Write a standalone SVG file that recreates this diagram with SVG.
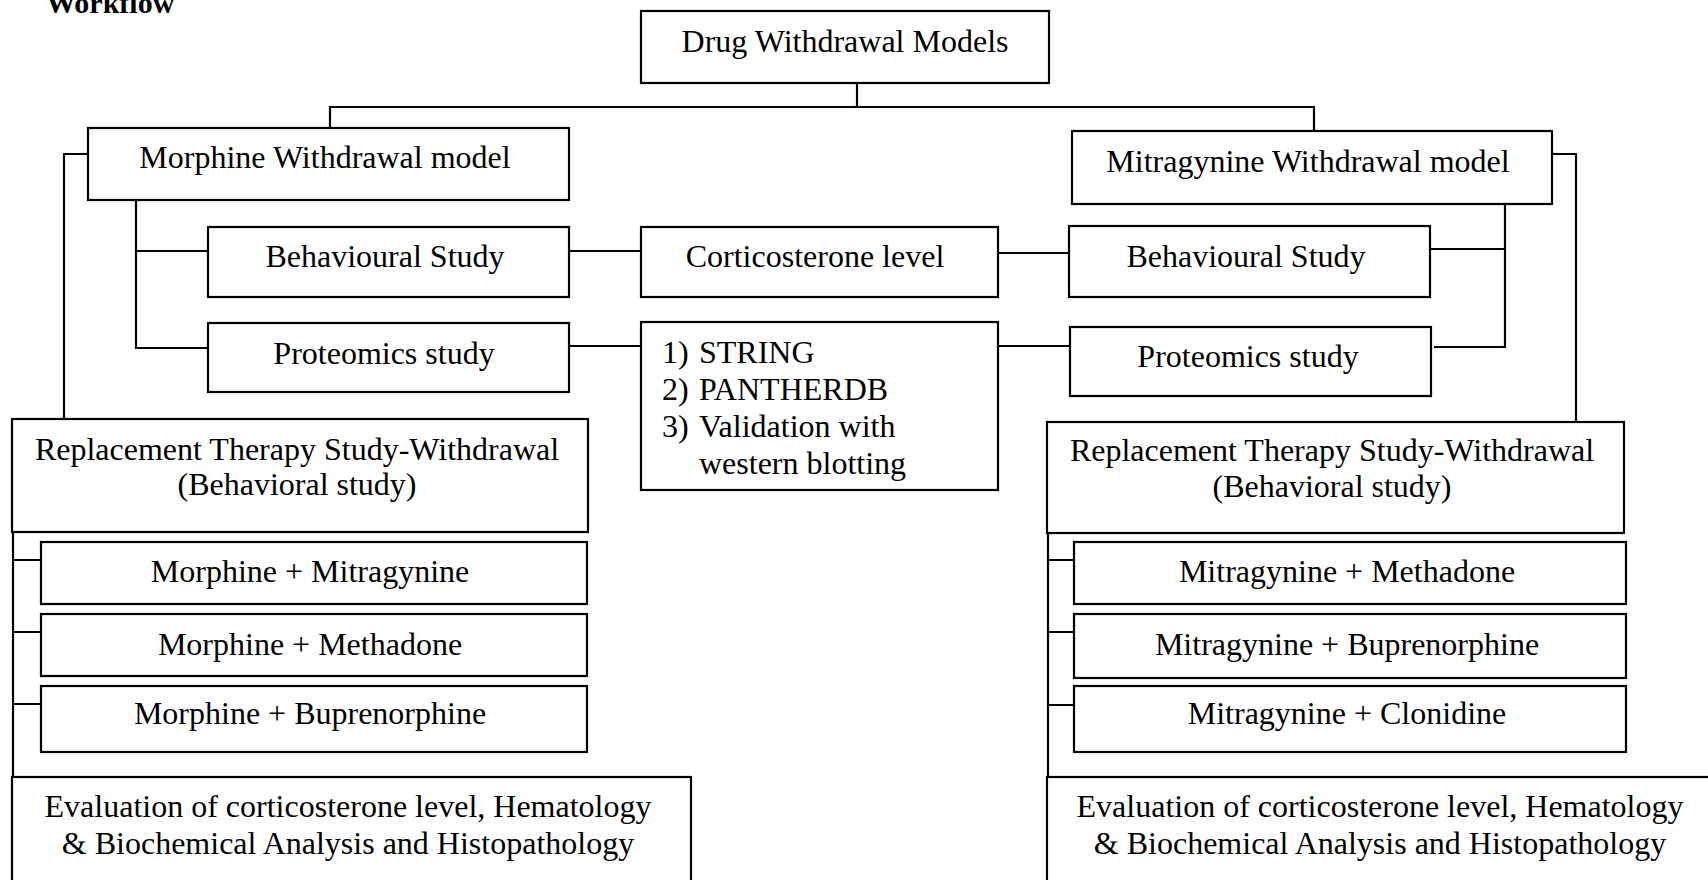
<svg xmlns="http://www.w3.org/2000/svg" width="1708" height="880" viewBox="0 0 1708 880">
<style>
.box{fill:#fff;stroke:#000;stroke-width:2.2}
.t{font-family:"Liberation Serif","Times New Roman",serif;font-size:32px;fill:#000;text-anchor:middle}
.l{font-family:"Liberation Serif","Times New Roman",serif;font-size:32px;fill:#000}
.c{fill:none;stroke:#000;stroke-width:2.2}
</style>
<rect width="1708" height="880" fill="#fff"/>
<text x="46" y="13" style="font-family:'Liberation Serif','Times New Roman',serif;font-size:30px;font-weight:bold">Workflow</text>
<g id="connectors" class="c">
<path d="M857,83 V107"/>
<path d="M330,128 V107 H1314 V131"/>
<path d="M88,154 H64 V419"/>
<path d="M1552,154 H1576 V422"/>
<path d="M136,200 V348 H208 M136,251 H208"/>
<path d="M1505,204 V347 H1434 M1505,249 H1430"/>
<path d="M569,251 H641 M998,253 H1069"/>
<path d="M569,346 H641 M998,346 H1070"/>
<path d="M13,532 V777 M13,560 H41 M13,632 H41 M13,704 H41"/>
<path d="M1048,533 V777 M1048,560 H1074 M1048,632 H1074 M1048,705 H1074"/>
</g>
<g id="drug"><rect class="box" x="641" y="11" width="408" height="72"/><text class="t" x="845" y="52">Drug Withdrawal Models</text></g>
<g id="morphine"><rect class="box" x="88" y="128" width="481" height="72"/><text class="t" x="325" y="168">Morphine Withdrawal model</text></g>
<g id="mitragynine"><rect class="box" x="1072" y="131" width="480" height="73"/><text class="t" x="1308" y="172">Mitragynine Withdrawal model</text></g>
<g id="behavL"><rect class="box" x="208" y="227" width="361" height="70"/><text class="t" x="385" y="267">Behavioural Study</text></g>
<g id="cort"><rect class="box" x="641" y="227" width="357" height="70"/><text class="t" x="815" y="267">Corticosterone level</text></g>
<g id="behavR"><rect class="box" x="1069" y="226" width="361" height="71"/><text class="t" x="1246" y="267">Behavioural Study</text></g>
<g id="protL"><rect class="box" x="208" y="323" width="361" height="69"/><text class="t" x="384" y="364">Proteomics study</text></g>
<g id="string"><rect class="box" x="641" y="322" width="357" height="168"/>
<text class="l" x="662" y="363">1)</text><text class="l" x="699" y="363">STRING</text>
<text class="l" x="662" y="400">2)</text><text class="l" x="699" y="400">PANTHERDB</text>
<text class="l" x="662" y="437">3)</text><text class="l" x="699" y="437">Validation with</text>
<text class="l" x="699" y="474">western blotting</text></g>
<g id="protR"><rect class="box" x="1070" y="327" width="361" height="69"/><text class="t" x="1248" y="367">Proteomics study</text></g>
<g id="replL"><rect class="box" x="12" y="419" width="576" height="113"/><text class="t" x="297" y="460">Replacement Therapy Study-Withdrawal</text><text class="t" x="297" y="495">(Behavioral study)</text></g>
<g id="replR"><rect class="box" x="1047" y="422" width="577" height="111"/><text class="t" x="1332" y="461">Replacement Therapy Study-Withdrawal</text><text class="t" x="1332" y="497">(Behavioral study)</text></g>
<g id="subL1"><rect class="box" x="41" y="542" width="546" height="62"/><text class="t" x="310" y="582">Morphine + Mitragynine</text></g>
<g id="subL2"><rect class="box" x="41" y="614" width="546" height="62"/><text class="t" x="310" y="655">Morphine + Methadone</text></g>
<g id="subL3"><rect class="box" x="41" y="686" width="546" height="66"/><text class="t" x="310" y="724">Morphine + Buprenorphine</text></g>
<g id="subR1"><rect class="box" x="1074" y="542" width="552" height="62"/><text class="t" x="1347" y="582">Mitragynine + Methadone</text></g>
<g id="subR2"><rect class="box" x="1074" y="614" width="552" height="64"/><text class="t" x="1347" y="655">Mitragynine + Buprenorphine</text></g>
<g id="subR3"><rect class="box" x="1074" y="686" width="552" height="66"/><text class="t" x="1347" y="724">Mitragynine + Clonidine</text></g>
<g id="evalL"><rect class="box" x="12" y="777" width="679" height="120"/><text class="t" x="348" y="817">Evaluation of corticosterone level, Hematology</text><text class="t" x="348" y="854">&amp; Biochemical Analysis and Histopathology</text></g>
<g id="evalR"><rect class="box" x="1047" y="777" width="680" height="120"/><text class="t" x="1380" y="817">Evaluation of corticosterone level, Hematology</text><text class="t" x="1380" y="854">&amp; Biochemical Analysis and Histopathology</text></g>
</svg>
